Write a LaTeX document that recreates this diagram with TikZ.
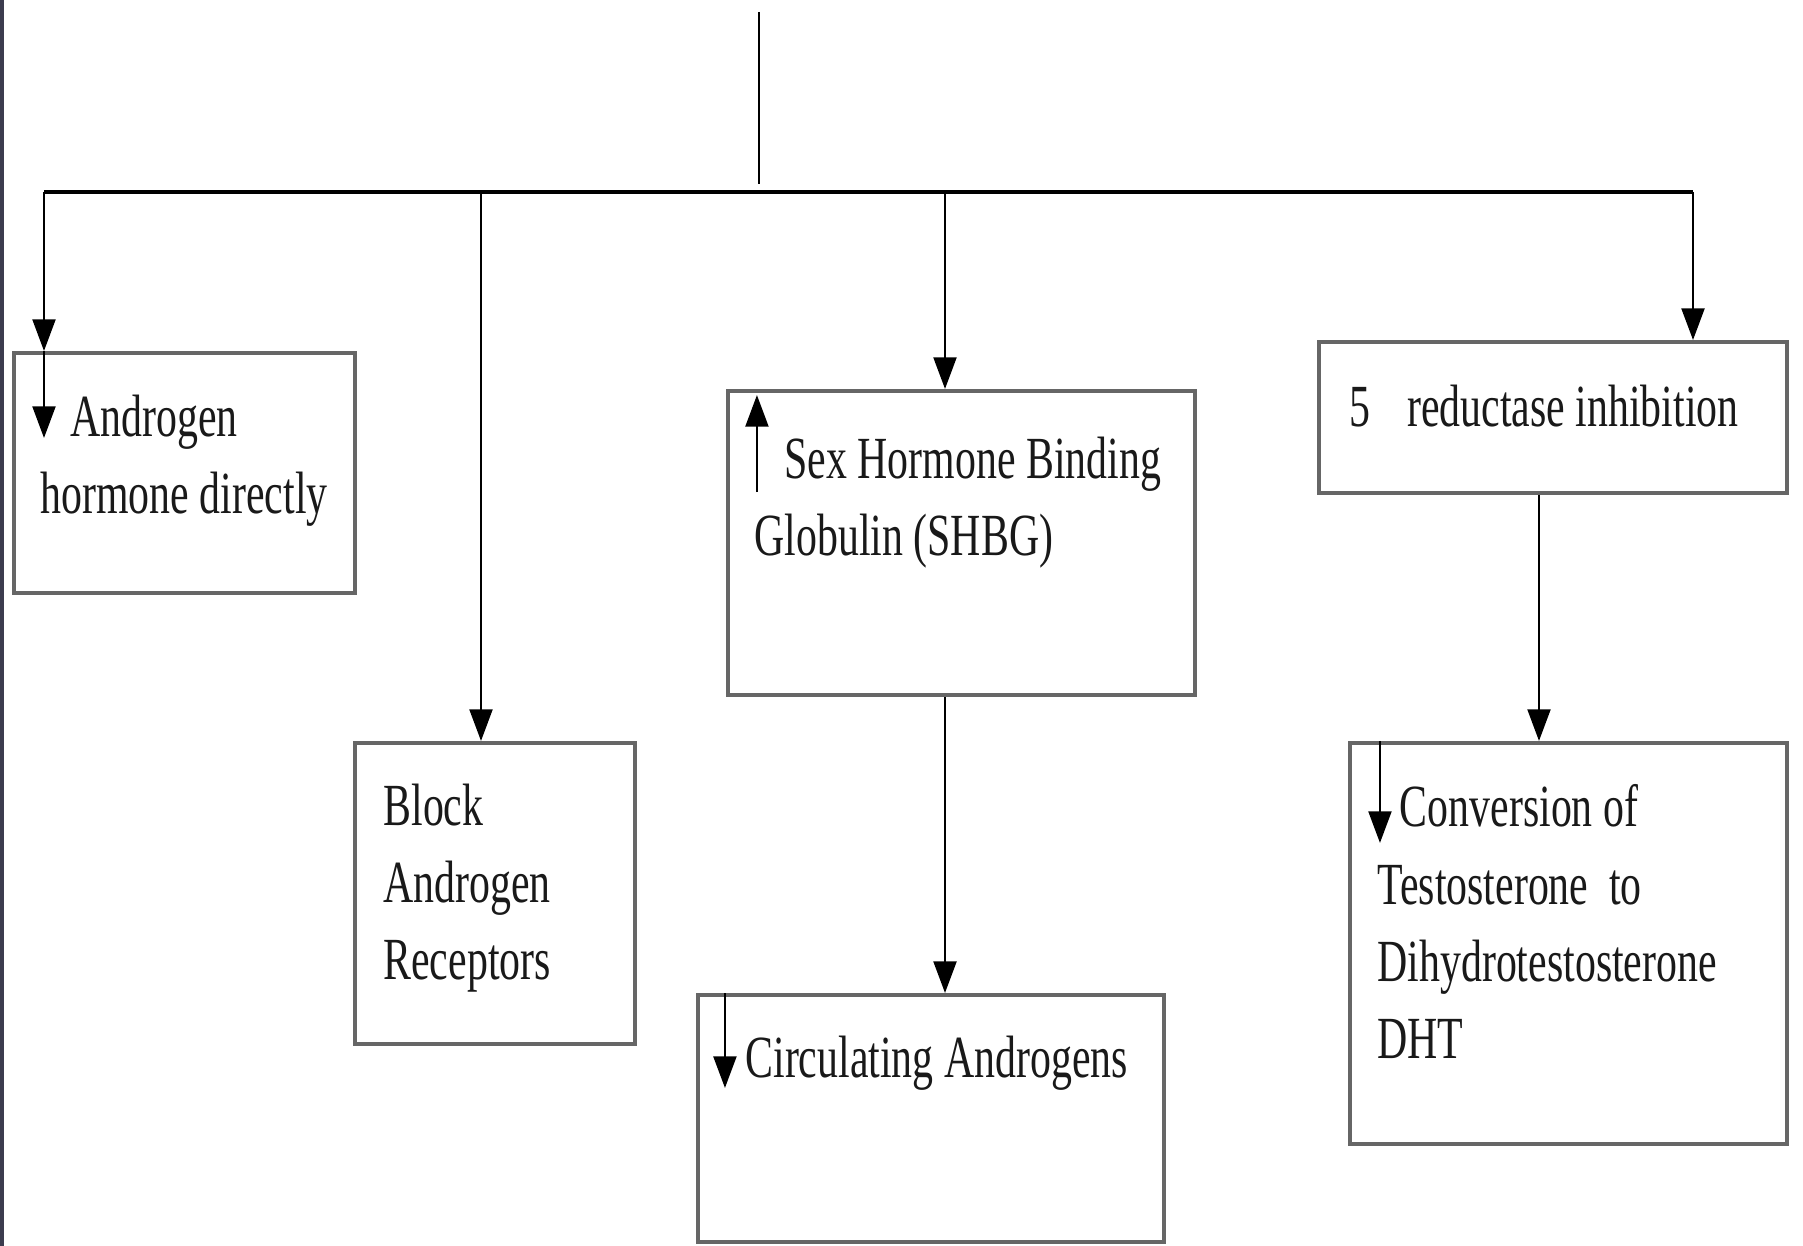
\documentclass[tikz,border=0pt]{standalone}
\usepackage{xcolor}
\usepackage{tikz}
\usepackage{fontspec}
\setmainfont{Liberation Serif}
\usetikzlibrary{positioning,arrows.meta}

\definecolor{edgestrip}{HTML}{3C3C4E}

\begin{document}
\begin{tikzpicture}[x=0.01cm, y=-0.01cm,
			box/.style = {draw=gray!80!black, line width=1.1pt, inner sep=0pt},
			txt/.style = {anchor=north west, inner sep=0pt, align=left,
				xscale=0.7, text=black!90, font=\fontsize{17}{22}\selectfont},
			arr/.style = {line width=0.75pt, -{Triangle[length=9pt,width=6.5pt]}}]
			\useasboundingbox (0,0) rectangle (1803,1246);
			\fill[edgestrip] (0,0) rectangle (4,1246);
			
			% boxes
			\node[box, minimum width=3.41cm, minimum height=2.40cm] (direct) at (184.5,473) {};
			\node[box, minimum width=2.80cm, minimum height=3.01cm] (block) at (495,893.5) {};
			\node[box, minimum width=4.67cm, minimum height=3.04cm] (shbg) at (961.5,543) {};
			\node[box, minimum width=4.66cm, minimum height=2.47cm] (circ) at (931,1118.5) {};
			\node[box, minimum width=4.68cm, minimum height=1.51cm] (reduct) at (1553,417.5) {};
			\node[box, minimum width=4.37cm, minimum height=4.01cm] (conv) at (1568.5,943.5) {};
			
			% texts
			\node[txt] (tdirect) at (40,394) {\hspace*{12.2pt}Androgen\\hormone directly};
			\node[txt] (tblock) at (383,783) {Block\\Androgen\\Receptors};
			\node[txt] (tshbg) at (754,436) {\hspace*{12.2pt}Sex Hormone Binding\\Globulin (SHBG)};
			\node[txt] (tcirc) at (745,1035) {Circulating Androgens};
			\node[txt] (treduct) at (1349,384) {5\hspace{15pt}reductase inhibition};
			\node[txt] (tconv) at (1377,784) {\hspace*{9.1pt}Conversion of\\Testosterone\ \ to\\Dihydrotestosterone\\DHT};
			
			% bus
			\coordinate (top) at (759,12);
			\coordinate (hub) at (759,184);
			\coordinate (b1) at (44,192);
			\coordinate (b2) at (481,192);
			\coordinate (b3) at (945,192);
			\coordinate (b5) at (1693,192);
			\draw[line width=0.5pt] (top) -- (hub);
			\draw[line width=1.1pt] (b1) -- (b5);
			
			% connectors
			\draw[arr] (b1) -- (b1 |- direct.north);
			\draw[arr] (b2) -- (b2 |- block.north);
			\draw[arr] (b3) -- (b3 |- shbg.north);
			\draw[arr] (b5) -- (b5 |- reduct.north);
			\draw[arr] (b3 |- shbg.south) -- (b3 |- circ.north);
			\coordinate (r5) at ([xshift=-0.14cm]reduct.south);
			\draw[arr] (r5) -- (r5 |- conv.north);
			
			% up and down marks
			\draw[arr] (b1 |- direct.north) -- ++(0,87);
			\draw[arr] ([xshift=0.31cm, yshift=-1.03cm]shbg.north west) -- ++(0,-97);
			\draw[arr] ([xshift=0.29cm]circ.north west) -- ++(0,95);
			\draw[arr] ([xshift=0.32cm]conv.north west) -- ++(0,102);
			\end{tikzpicture}
\end{document}
